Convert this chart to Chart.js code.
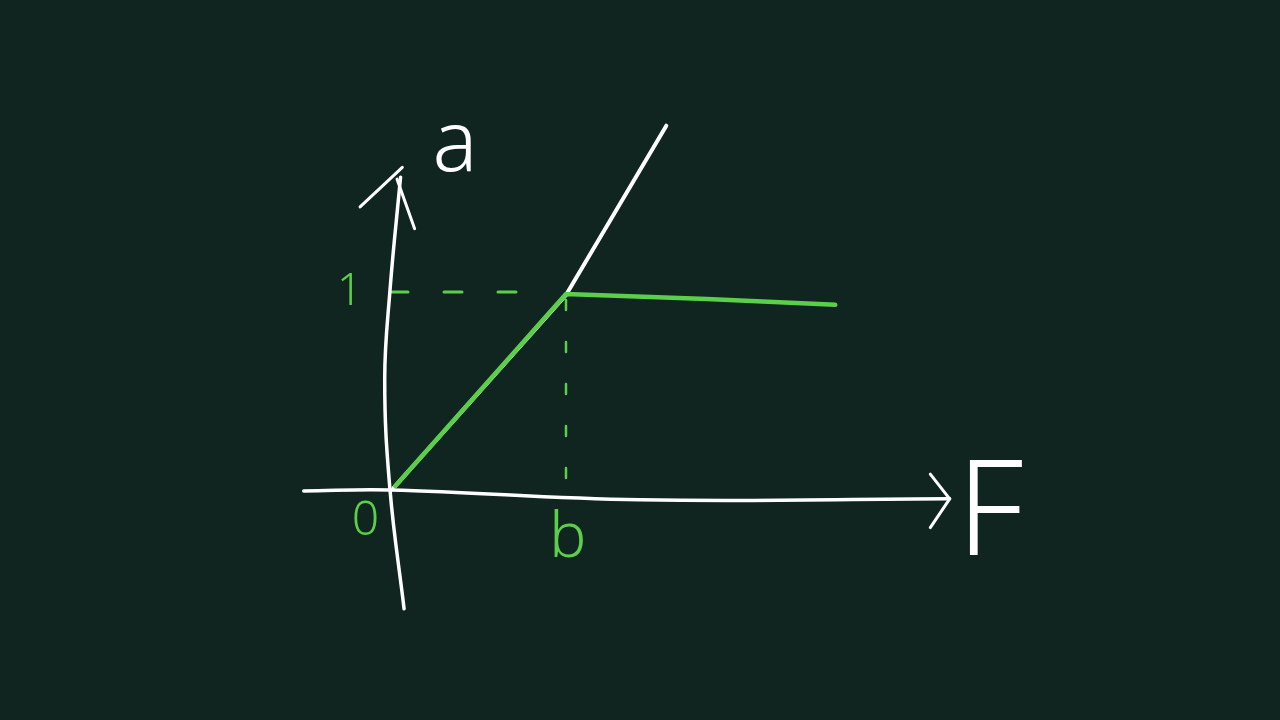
<!DOCTYPE html>
<html>
<head>
<meta charset="utf-8">
<script src="https://cdn.jsdelivr.net/npm/chart.js@4/dist/chart.umd.min.js"></script>
<style>
  html, body { margin: 0; padding: 0; background: #10251f; }
  canvas { display: block; }
</style>
</head>
<body>
<canvas id="chart" width="1280" height="720"></canvas>
<script>
// --- data (units: F along x, a along y, b = 1 on F, 1 on a)
var xAxisPts = [[-0.49, -0.005], [0, 0], [1.42, -0.05], [3.18, -0.045]];
var xArrowPts = [[3.07, 0.08], [3.18, -0.045], [3.07, -0.19]];
var yAxisPts = [[0.08, -0.6], [0, 0], [-0.03, 0.56], [0, 1.01], [0.06, 1.58]];
var yArrowA = [[-0.17, 1.43], [0.07, 1.63]];
var yArrowB = [[0.04, 1.57], [0.14, 1.32]];
var whiteLine = [[0.02, 0.01], [1, 0.985], [1.57, 1.84]];
var greenLine = [[0.03, 0.02], [1, 0.99], [1.8, 0.965], [2.53, 0.935]];
var dashH = [[0, 1.0], [0.92, 1.0]];
var dashV = [[1.0, 0.96], [1.0, 0.0]];
var labels = [
    { text: 'a', x: 0.37, y: 1.73, color: '#ffffff', size: 84 },
    { text: 'F', x: 3.41, y: -0.14, color: '#ffffff', size: 132 },
    { text: '0', x: -0.14, y: -0.16, color: '#5ccf4a', size: 48 },
    { text: 'b', x: 1.01, y: -0.25, color: '#5ccf4a', size: 62 },
    { text: '1', x: -0.23, y: 1.0, color: '#5ccf4a', size: 44 }
];

var WHITE = '#ffffff';
var GREEN = '#5ccf4a';

function pts(arr) {
    return arr.map(function (p) { return { x: p[0], y: p[1] }; });
}

function ds(arr, color, width, extra) {
    var d = {
        data: pts(arr),
        borderColor: color,
        borderWidth: width,
        pointRadius: 0,
        fill: false,
        tension: 0,
        order: 1,
        borderCapStyle: 'round',
        borderJoinStyle: 'round'
    };
    for (var k in extra) d[k] = extra[k];
    return d;
}

// text labels drawn at data positions
var labelPlugin = {
    id: 'labels',
    afterDatasetsDraw: function (chart) {
        var ctx = chart.ctx;
        var sx = chart.scales.x, sy = chart.scales.y;
        ctx.save();
        ctx.textAlign = 'center';
        ctx.textBaseline = 'middle';
        labels.forEach(function (l) {
            ctx.fillStyle = l.color;
            ctx.font = '300 ' + l.size + 'px "Noto Sans"';
            ctx.fillText(l.text, sx.getPixelForValue(l.x), sy.getPixelForValue(l.y));
        });
        ctx.restore();
    }
};

var bgPlugin = {
    id: 'bg',
    beforeDraw: function (chart) {
        var ctx = chart.ctx;
        ctx.save();
        ctx.fillStyle = '#10251f';
        ctx.fillRect(0, 0, chart.width, chart.height);
        ctx.restore();
    }
};

new Chart(document.getElementById('chart'), {
    type: 'line',
    data: {
        datasets: [
            ds(xAxisPts, WHITE, 3.5, { tension: 0.4 }),
            ds(xArrowPts, WHITE, 3, {}),
            ds(yAxisPts, WHITE, 3.5, { tension: 0.4 }),
            ds(yArrowA, WHITE, 3, {}),
            ds(yArrowB, WHITE, 3, {}),
            ds(whiteLine, WHITE, 4, { order: 2 }),
            ds(dashH, GREEN, 3, { borderDash: [18, 36] }),
            ds(dashV, GREEN, 2.5, { borderDash: [10, 32] }),
            ds(greenLine, GREEN, 4.5, { order: 0 })
        ]
    },
    options: {
        responsive: false,
        animation: false,
        layout: { padding: 0 },
        plugins: { legend: { display: false }, tooltip: { enabled: false } },
        scales: {
            x: { type: 'linear', display: false, min: -2.216, max: 5.057 },
            y: { type: 'linear', display: false, min: -1.162, max: 2.475 }
        }
    },
    plugins: [bgPlugin, labelPlugin]
});
</script>
</body>
</html>
